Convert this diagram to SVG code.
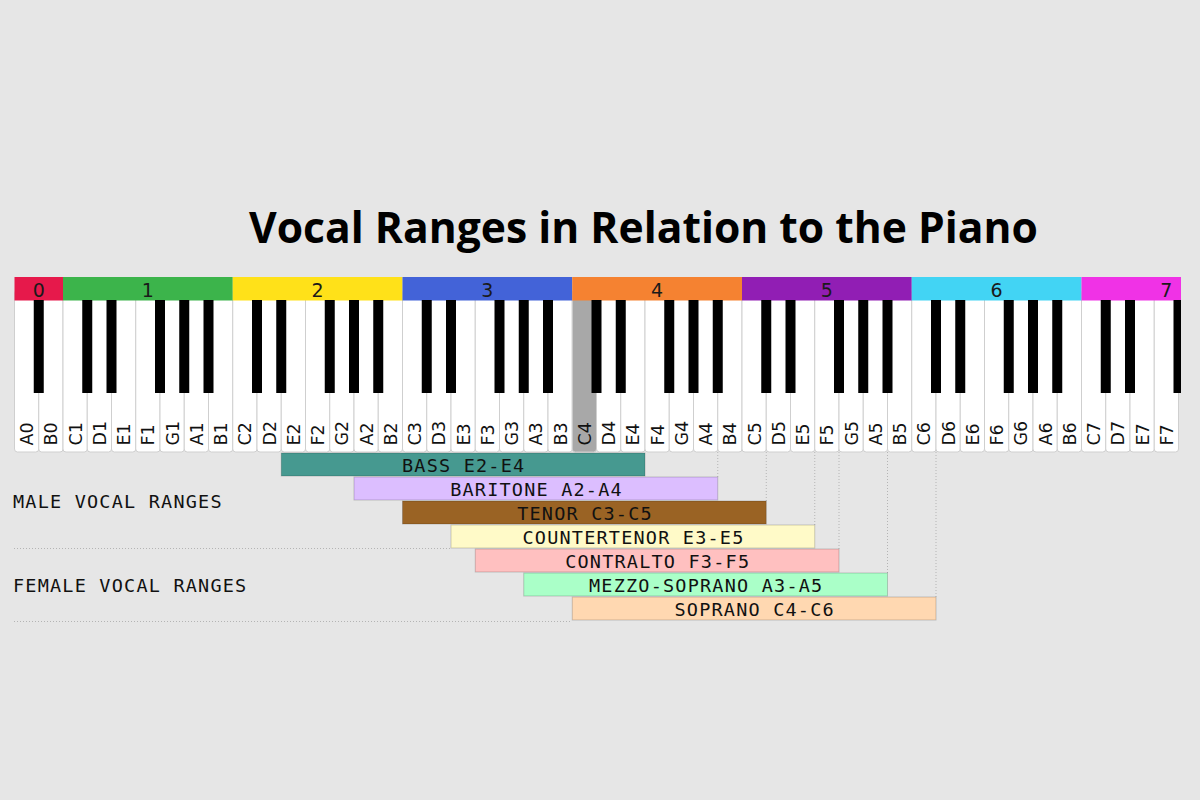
<svg xmlns="http://www.w3.org/2000/svg" width="1200" height="800" viewBox="0 0 1200 800">
<style>
.bg{fill:#e6e6e6}
.title{font-family:"Open Sans","DejaVu Sans",sans-serif;font-weight:700;font-size:43.5px;fill:#000}
.wk{fill:#fff;stroke:#cfcfcf;stroke-width:1}
.c4{fill:#a8a8a8;stroke:#cfcfcf;stroke-width:1}
.bk{fill:#000}
.oct{font-family:"DejaVu Sans",sans-serif;font-size:19px;fill:#1a1a1a;text-anchor:middle}
.kl{font-family:"DejaVu Sans",sans-serif;font-size:17.5px;fill:#111}
.bar{stroke:rgba(0,0,0,0.18);stroke-width:1}
.bt{font-family:"DejaVu Sans Mono","Liberation Mono",monospace;font-size:18.5px;letter-spacing:1.2px;fill:#111;text-anchor:middle}
.grp{font-family:"DejaVu Sans Mono","Liberation Mono",monospace;font-size:18.5px;letter-spacing:1.2px;fill:#111}
.dot{stroke:#b4b4b4;stroke-width:1;stroke-dasharray:1 2;fill:none}
</style>
<defs>
<clipPath id="kbclip"><rect x="14" y="270" width="1167" height="190"/></clipPath>
</defs>
<rect class="bg" x="0" y="0" width="1200" height="800"/>
<g id="title"><text class="title" x="249" y="242.7" textLength="789" lengthAdjust="spacingAndGlyphs">Vocal Ranges in Relation to the Piano</text></g>

<g id="keyboard" clip-path="url(#kbclip)">
<g id="white-keys">
<rect class="wk" x="14.5" y="290" width="24.25" height="162" rx="3"/>
<rect class="wk" x="38.75" y="290" width="24.25" height="162" rx="3"/>
<rect class="wk" x="63" y="290" width="24.25" height="162" rx="3"/>
<rect class="wk" x="87.25" y="290" width="24.25" height="162" rx="3"/>
<rect class="wk" x="111.5" y="290" width="24.25" height="162" rx="3"/>
<rect class="wk" x="135.75" y="290" width="24.25" height="162" rx="3"/>
<rect class="wk" x="160" y="290" width="24.25" height="162" rx="3"/>
<rect class="wk" x="184.25" y="290" width="24.25" height="162" rx="3"/>
<rect class="wk" x="208.5" y="290" width="24.25" height="162" rx="3"/>
<rect class="wk" x="232.75" y="290" width="24.25" height="162" rx="3"/>
<rect class="wk" x="257" y="290" width="24.25" height="162" rx="3"/>
<rect class="wk" x="281.25" y="290" width="24.25" height="162" rx="3"/>
<rect class="wk" x="305.5" y="290" width="24.25" height="162" rx="3"/>
<rect class="wk" x="329.75" y="290" width="24.25" height="162" rx="3"/>
<rect class="wk" x="354" y="290" width="24.25" height="162" rx="3"/>
<rect class="wk" x="378.25" y="290" width="24.25" height="162" rx="3"/>
<rect class="wk" x="402.5" y="290" width="24.25" height="162" rx="3"/>
<rect class="wk" x="426.75" y="290" width="24.25" height="162" rx="3"/>
<rect class="wk" x="451" y="290" width="24.25" height="162" rx="3"/>
<rect class="wk" x="475.25" y="290" width="24.25" height="162" rx="3"/>
<rect class="wk" x="499.5" y="290" width="24.25" height="162" rx="3"/>
<rect class="wk" x="523.75" y="290" width="24.25" height="162" rx="3"/>
<rect class="wk" x="548" y="290" width="24.25" height="162" rx="3"/>
<rect class="c4" x="572.25" y="290" width="24.25" height="162" rx="3"/>
<rect class="wk" x="596.5" y="290" width="24.25" height="162" rx="3"/>
<rect class="wk" x="620.75" y="290" width="24.25" height="162" rx="3"/>
<rect class="wk" x="645" y="290" width="24.25" height="162" rx="3"/>
<rect class="wk" x="669.25" y="290" width="24.25" height="162" rx="3"/>
<rect class="wk" x="693.5" y="290" width="24.25" height="162" rx="3"/>
<rect class="wk" x="717.75" y="290" width="24.25" height="162" rx="3"/>
<rect class="wk" x="742" y="290" width="24.25" height="162" rx="3"/>
<rect class="wk" x="766.25" y="290" width="24.25" height="162" rx="3"/>
<rect class="wk" x="790.5" y="290" width="24.25" height="162" rx="3"/>
<rect class="wk" x="814.75" y="290" width="24.25" height="162" rx="3"/>
<rect class="wk" x="839" y="290" width="24.25" height="162" rx="3"/>
<rect class="wk" x="863.25" y="290" width="24.25" height="162" rx="3"/>
<rect class="wk" x="887.5" y="290" width="24.25" height="162" rx="3"/>
<rect class="wk" x="911.75" y="290" width="24.25" height="162" rx="3"/>
<rect class="wk" x="936" y="290" width="24.25" height="162" rx="3"/>
<rect class="wk" x="960.25" y="290" width="24.25" height="162" rx="3"/>
<rect class="wk" x="984.5" y="290" width="24.25" height="162" rx="3"/>
<rect class="wk" x="1008.75" y="290" width="24.25" height="162" rx="3"/>
<rect class="wk" x="1033" y="290" width="24.25" height="162" rx="3"/>
<rect class="wk" x="1057.25" y="290" width="24.25" height="162" rx="3"/>
<rect class="wk" x="1081.5" y="290" width="24.25" height="162" rx="3"/>
<rect class="wk" x="1105.75" y="290" width="24.25" height="162" rx="3"/>
<rect class="wk" x="1130" y="290" width="24.25" height="162" rx="3"/>
<rect class="wk" x="1154.25" y="290" width="24.25" height="162" rx="3"/>
</g>
<g id="octave-bands">
<rect x="14.5" y="277" width="48.5" height="23.5" fill="#e6194b"/>
<rect x="63" y="277" width="169.75" height="23.5" fill="#3cb44b"/>
<rect x="232.75" y="277" width="169.75" height="23.5" fill="#ffe119"/>
<rect x="402.5" y="277" width="169.75" height="23.5" fill="#4363d8"/>
<rect x="572.25" y="277" width="169.75" height="23.5" fill="#f58231"/>
<rect x="742" y="277" width="169.75" height="23.5" fill="#911eb4"/>
<rect x="911.75" y="277" width="169.75" height="23.5" fill="#42d4f4"/>
<rect x="1081.5" y="277" width="169.75" height="23.5" fill="#f032e6"/>
<text class="oct" x="38.75" y="296.5">0</text>
<text class="oct" x="147.9" y="296.5">1</text>
<text class="oct" x="317.6" y="296.5">2</text>
<text class="oct" x="487.4" y="296.5">3</text>
<text class="oct" x="657.1" y="296.5">4</text>
<text class="oct" x="826.9" y="296.5">5</text>
<text class="oct" x="996.6" y="296.5">6</text>
<text class="oct" x="1166.4" y="296.5">7</text>
</g>
<g id="black-keys">
<rect class="bk" x="33.75" y="300" width="10" height="93"/>
<rect class="bk" x="82.25" y="300" width="10" height="93"/>
<rect class="bk" x="106.5" y="300" width="10" height="93"/>
<rect class="bk" x="155" y="300" width="10" height="93"/>
<rect class="bk" x="179.25" y="300" width="10" height="93"/>
<rect class="bk" x="203.5" y="300" width="10" height="93"/>
<rect class="bk" x="252" y="300" width="10" height="93"/>
<rect class="bk" x="276.25" y="300" width="10" height="93"/>
<rect class="bk" x="324.75" y="300" width="10" height="93"/>
<rect class="bk" x="349" y="300" width="10" height="93"/>
<rect class="bk" x="373.25" y="300" width="10" height="93"/>
<rect class="bk" x="421.75" y="300" width="10" height="93"/>
<rect class="bk" x="446" y="300" width="10" height="93"/>
<rect class="bk" x="494.5" y="300" width="10" height="93"/>
<rect class="bk" x="518.75" y="300" width="10" height="93"/>
<rect class="bk" x="543" y="300" width="10" height="93"/>
<rect class="bk" x="591.5" y="300" width="10" height="93"/>
<rect class="bk" x="615.75" y="300" width="10" height="93"/>
<rect class="bk" x="664.25" y="300" width="10" height="93"/>
<rect class="bk" x="688.5" y="300" width="10" height="93"/>
<rect class="bk" x="712.75" y="300" width="10" height="93"/>
<rect class="bk" x="761.25" y="300" width="10" height="93"/>
<rect class="bk" x="785.5" y="300" width="10" height="93"/>
<rect class="bk" x="834" y="300" width="10" height="93"/>
<rect class="bk" x="858.25" y="300" width="10" height="93"/>
<rect class="bk" x="882.5" y="300" width="10" height="93"/>
<rect class="bk" x="931" y="300" width="10" height="93"/>
<rect class="bk" x="955.25" y="300" width="10" height="93"/>
<rect class="bk" x="1003.75" y="300" width="10" height="93"/>
<rect class="bk" x="1028" y="300" width="10" height="93"/>
<rect class="bk" x="1052.25" y="300" width="10" height="93"/>
<rect class="bk" x="1100.75" y="300" width="10" height="93"/>
<rect class="bk" x="1125" y="300" width="10" height="93"/>
<rect class="bk" x="1173.5" y="300" width="10" height="93"/>
</g>
<g id="key-labels">
<text class="kl" transform="translate(33.2,445.5) rotate(-90)">A0</text>
<text class="kl" transform="translate(57.45,445.5) rotate(-90)">B0</text>
<text class="kl" transform="translate(81.7,445.5) rotate(-90)">C1</text>
<text class="kl" transform="translate(105.95,445.5) rotate(-90)">D1</text>
<text class="kl" transform="translate(130.2,445.5) rotate(-90)">E1</text>
<text class="kl" transform="translate(154.45,445.5) rotate(-90)">F1</text>
<text class="kl" transform="translate(178.7,445.5) rotate(-90)">G1</text>
<text class="kl" transform="translate(202.95,445.5) rotate(-90)">A1</text>
<text class="kl" transform="translate(227.2,445.5) rotate(-90)">B1</text>
<text class="kl" transform="translate(251.45,445.5) rotate(-90)">C2</text>
<text class="kl" transform="translate(275.7,445.5) rotate(-90)">D2</text>
<text class="kl" transform="translate(299.95,445.5) rotate(-90)">E2</text>
<text class="kl" transform="translate(324.2,445.5) rotate(-90)">F2</text>
<text class="kl" transform="translate(348.45,445.5) rotate(-90)">G2</text>
<text class="kl" transform="translate(372.7,445.5) rotate(-90)">A2</text>
<text class="kl" transform="translate(396.95,445.5) rotate(-90)">B2</text>
<text class="kl" transform="translate(421.2,445.5) rotate(-90)">C3</text>
<text class="kl" transform="translate(445.45,445.5) rotate(-90)">D3</text>
<text class="kl" transform="translate(469.7,445.5) rotate(-90)">E3</text>
<text class="kl" transform="translate(493.95,445.5) rotate(-90)">F3</text>
<text class="kl" transform="translate(518.2,445.5) rotate(-90)">G3</text>
<text class="kl" transform="translate(542.45,445.5) rotate(-90)">A3</text>
<text class="kl" transform="translate(566.7,445.5) rotate(-90)">B3</text>
<text class="kl" transform="translate(590.95,445.5) rotate(-90)">C4</text>
<text class="kl" transform="translate(615.2,445.5) rotate(-90)">D4</text>
<text class="kl" transform="translate(639.45,445.5) rotate(-90)">E4</text>
<text class="kl" transform="translate(663.7,445.5) rotate(-90)">F4</text>
<text class="kl" transform="translate(687.95,445.5) rotate(-90)">G4</text>
<text class="kl" transform="translate(712.2,445.5) rotate(-90)">A4</text>
<text class="kl" transform="translate(736.45,445.5) rotate(-90)">B4</text>
<text class="kl" transform="translate(760.7,445.5) rotate(-90)">C5</text>
<text class="kl" transform="translate(784.95,445.5) rotate(-90)">D5</text>
<text class="kl" transform="translate(809.2,445.5) rotate(-90)">E5</text>
<text class="kl" transform="translate(833.45,445.5) rotate(-90)">F5</text>
<text class="kl" transform="translate(857.7,445.5) rotate(-90)">G5</text>
<text class="kl" transform="translate(881.95,445.5) rotate(-90)">A5</text>
<text class="kl" transform="translate(906.2,445.5) rotate(-90)">B5</text>
<text class="kl" transform="translate(930.45,445.5) rotate(-90)">C6</text>
<text class="kl" transform="translate(954.7,445.5) rotate(-90)">D6</text>
<text class="kl" transform="translate(978.95,445.5) rotate(-90)">E6</text>
<text class="kl" transform="translate(1003.2,445.5) rotate(-90)">F6</text>
<text class="kl" transform="translate(1027.45,445.5) rotate(-90)">G6</text>
<text class="kl" transform="translate(1051.7,445.5) rotate(-90)">A6</text>
<text class="kl" transform="translate(1075.95,445.5) rotate(-90)">B6</text>
<text class="kl" transform="translate(1100.2,445.5) rotate(-90)">C7</text>
<text class="kl" transform="translate(1124.45,445.5) rotate(-90)">D7</text>
<text class="kl" transform="translate(1148.7,445.5) rotate(-90)">E7</text>
<text class="kl" transform="translate(1172.95,445.5) rotate(-90)">F7</text>
</g>
</g>

<g id="connectors">
<line class="dot" x1="717.75" y1="452" x2="717.75" y2="477"/>
<line class="dot" x1="766.25" y1="452" x2="766.25" y2="501"/>
<line class="dot" x1="814.75" y1="452" x2="814.75" y2="525"/>
<line class="dot" x1="839" y1="452" x2="839" y2="549"/>
<line class="dot" x1="887.5" y1="452" x2="887.5" y2="573"/>
<line class="dot" x1="936" y1="452" x2="936" y2="597"/>
<line class="dot" x1="14" y1="548.5" x2="451" y2="548.5"/>
<line class="dot" x1="14" y1="621.5" x2="572" y2="621.5"/>
</g>

<g id="group-labels">
<text class="grp" x="13" y="507.5">MALE VOCAL RANGES</text>
<text class="grp" x="13" y="591.5">FEMALE VOCAL RANGES</text>
</g>

<g id="bass"><rect class="bar" x="281.25" y="453" width="363.75" height="23" fill="#469990"/><text class="bt" x="463.7" y="471.7">BASS E2-E4</text></g>
<g id="baritone"><rect class="bar" x="354" y="477" width="363.75" height="23" fill="#dcbeff"/><text class="bt" x="536.5" y="495.7">BARITONE A2-A4</text></g>
<g id="tenor"><rect class="bar" x="402.5" y="501" width="363.75" height="23" fill="#9a6324"/><text class="bt" x="585" y="519.7">TENOR C3-C5</text></g>
<g id="countertenor"><rect class="bar" x="451" y="525" width="363.75" height="23" fill="#fffac8"/><text class="bt" x="633.5" y="543.7">COUNTERTENOR E3-E5</text></g>
<g id="contralto"><rect class="bar" x="475.25" y="549" width="363.75" height="23" fill="#ffc0c0"/><text class="bt" x="657.7" y="567.7">CONTRALTO F3-F5</text></g>
<g id="mezzo-soprano"><rect class="bar" x="523.75" y="573" width="363.75" height="23" fill="#aaffc8"/><text class="bt" x="706.2" y="591.7">MEZZO-SOPRANO A3-A5</text></g>
<g id="soprano"><rect class="bar" x="572.25" y="597" width="363.75" height="23" fill="#ffd8b1"/><text class="bt" x="754.7" y="615.7">SOPRANO C4-C6</text></g>
</svg>
